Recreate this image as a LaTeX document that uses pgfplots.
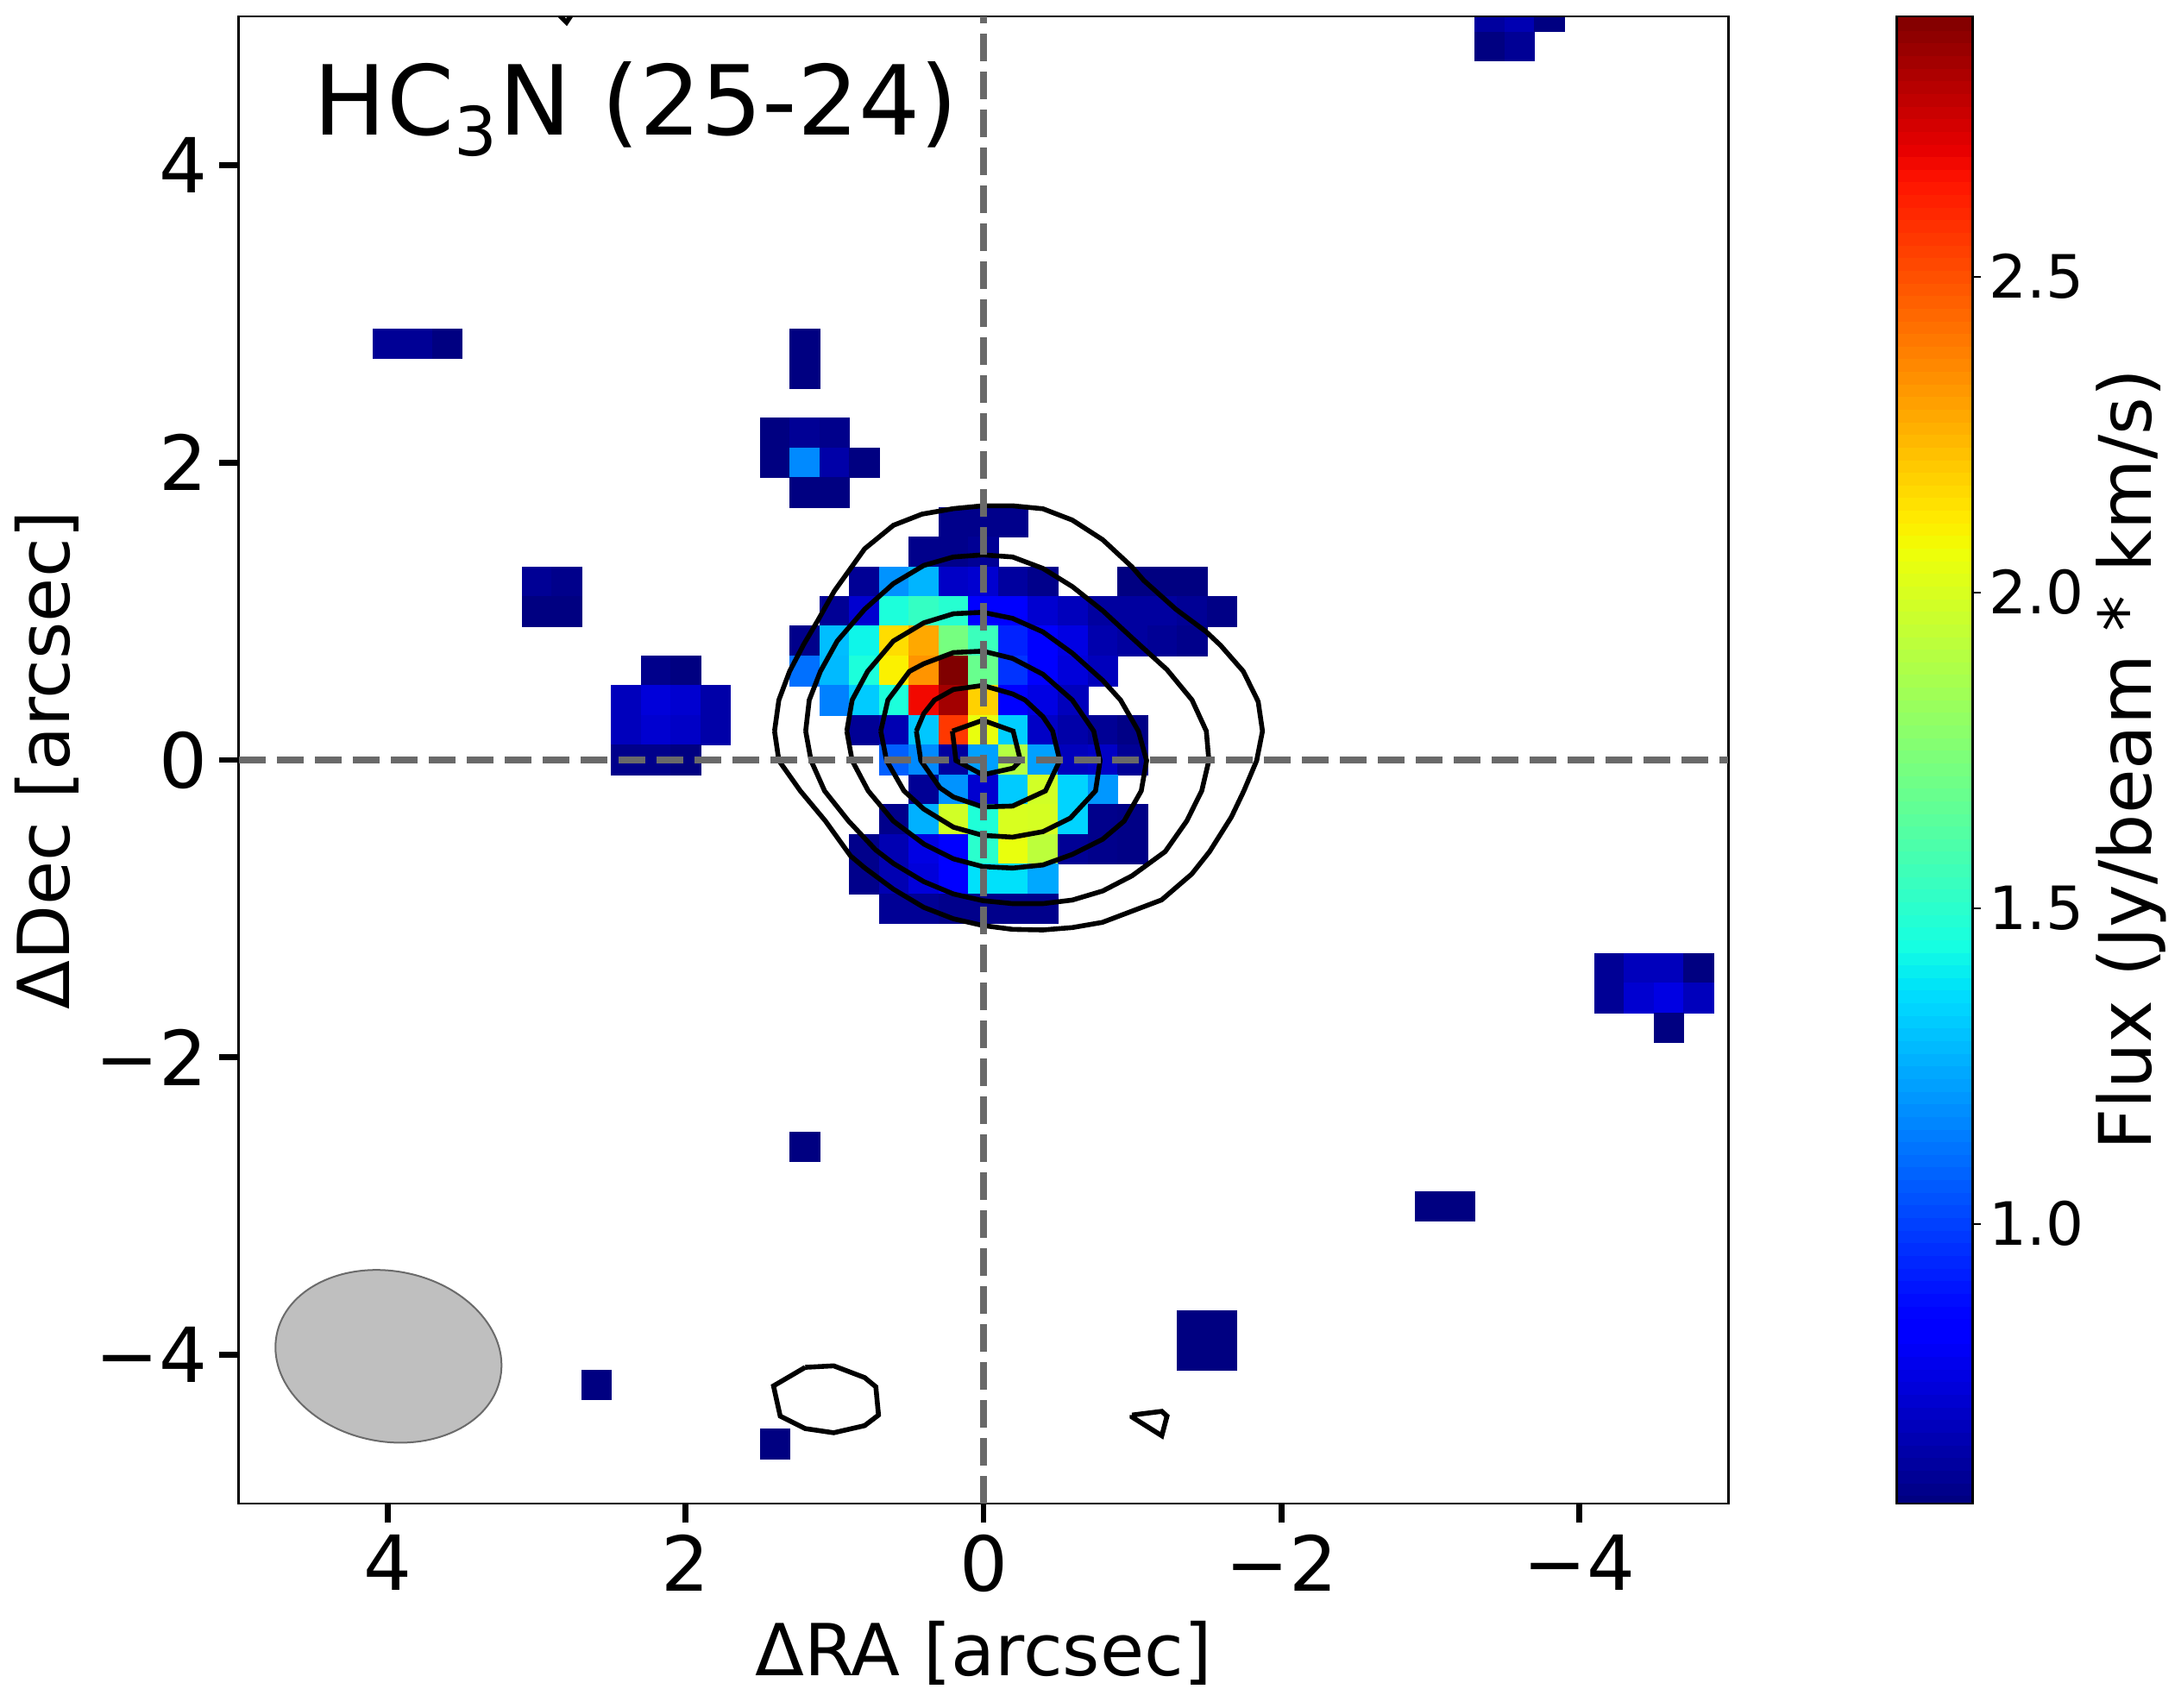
\documentclass[border=0pt]{standalone}
\usepackage{pgfplots}
\usepackage{pgfplotstable}
\usepackage{fontspec}
\setmainfont{DejaVu Sans}
\pgfplotsset{compat=1.18}
\pgfplotsset{colormap={mpljet}{
  rgb(0)=(0,0,0.5) rgb(110)=(0,0,1) rgb(125)=(0,0,1) rgb(340)=(0,0.86,1)
  rgb(350)=(0,0.9,0.968) rgb(375)=(0.081,1,0.887) rgb(640)=(0.935,1,0.032)
  rgb(650)=(0.968,0.963,0) rgb(660)=(1,0.926,0) rgb(890)=(1,0.074,0)
  rgb(910)=(0.909,0,0) rgb(1000)=(0.5,0,0)}}
\definecolor{dashgray}{HTML}{696969}

% x y flux
\pgfplotstableread{
x y f
4.0 2.8 .60
3.8 2.8 .60
3.6 2.8 .56
1.2 2.8 .56
1.2 2.6 .56
1.4 2.2 .56
1.2 2.2 .60
1.0 2.2 .58
1.4 2.0 .56
1.2 2.0 1.17
1.0 2.0 .64
0.8 2.0 .56
1.2 1.8 .56
1.0 1.8 .56
3.0 1.2 .60
2.8 1.2 .58
3.0 1.0 .56
2.8 1.0 .56
2.2 0.6 .58
2.0 0.6 .56
2.4 0.4 .68
2.2 0.4 .74
2.0 0.4 .72
1.8 0.4 .64
2.4 0.2 .68
2.2 0.2 .72
2.0 0.2 .70
1.8 0.2 .64
2.4 0.0 .58
2.2 0.0 .58
2.0 0.0 .56
-3.4 4.8 .56
-3.6 4.8 .60
-3.4 5.0 .62
-3.6 5.0 .66
-3.8 5.0 .56
-4.2 -1.4 .60
-4.4 -1.4 .68
-4.6 -1.4 .68
-4.8 -1.4 .56
-4.2 -1.6 .60
-4.4 -1.6 .72
-4.6 -1.6 .76
-4.8 -1.6 .68
-4.6 -1.8 .56
-3.0 -3.0 .56
-3.2 -3.0 .56
-1.4 -3.8 .56
-1.6 -3.8 .56
-1.4 -4.0 .56
-1.6 -4.0 .56
1.2 -2.6 .56
2.6 -4.2 .56
1.4 -4.6 .56
}\outliers

\pgfplotstableread{
x y f
0.2 1.6 .58
0.0 1.6 .58
-0.2 1.6 .58
0.4 1.4 .58
0.2 1.4 .58
0.0 1.4 .60
0.8 1.2 .60
0.6 1.2 1.19
0.4 1.2 1.27
0.2 1.2 .70
0.0 1.2 .72
-0.2 1.2 .62
-0.4 1.2 .58
-1.0 1.2 .56
-1.2 1.2 .56
-1.4 1.2 .56
1.0 1.0 .60
0.8 1.0 .72
0.6 1.0 1.46
0.4 1.0 1.53
0.2 1.0 1.49
0.0 1.0 .85
-0.2 1.0 .82
-0.4 1.0 .72
-0.6 1.0 .68
-0.8 1.0 .62
-1.0 1.0 .62
-1.2 1.0 .62
-1.4 1.0 .60
-1.6 1.0 .57
1.2 0.8 .58
1.0 0.8 1.29
0.8 0.8 1.42
0.6 0.8 2.15
0.4 0.8 2.28
0.2 0.8 1.72
0.0 0.8 1.55
-0.2 0.8 .93
-0.4 0.8 .85
-0.6 0.8 .76
-0.8 0.8 .65
-1.0 0.8 .62
-1.2 0.8 .60
-1.4 0.8 .58
1.2 0.6 1.11
1.0 0.6 1.28
0.8 0.6 1.46
0.6 0.6 2.10
0.4 0.6 2.33
0.2 0.6 2.91
0.0 0.6 1.68
-0.2 0.6 .97
-0.4 0.6 .82
-0.6 0.6 .74
-0.8 0.6 .68
1.0 0.4 1.15
0.8 0.4 1.32
0.6 0.4 1.46
0.4 0.4 2.68
0.2 0.4 2.84
0.0 0.4 2.18
-0.2 0.4 .82
-0.4 0.4 .76
-0.6 0.4 .68
0.8 0.2 .60
0.6 0.2 .66
0.4 0.2 1.31
0.2 0.2 2.56
0.0 0.2 2.05
-0.2 0.2 1.33
-0.4 0.2 .70
-0.6 0.2 .64
-0.8 0.2 .60
-1.0 0.2 .57
0.6 0.0 1.07
0.4 0.0 1.17
0.2 0.0 .62
0.0 0.0 1.22
-0.2 0.0 1.90
-0.4 0.0 1.22
-0.6 0.0 .68
-0.8 0.0 .70
-1.0 0.0 .60
0.4 -0.2 .60
0.2 -0.2 1.19
0.0 -0.2 .72
-0.2 -0.2 1.32
-0.4 -0.2 1.98
-0.6 -0.2 1.34
-0.8 -0.2 1.20
0.6 -0.4 .58
0.4 -0.4 1.26
0.2 -0.4 1.98
0.0 -0.4 1.47
-0.2 -0.4 2.00
-0.4 -0.4 1.99
-0.6 -0.4 1.34
-0.8 -0.4 .58
-1.0 -0.4 .57
0.8 -0.6 .58
0.6 -0.6 .66
0.4 -0.6 .76
0.2 -0.6 .82
0.0 -0.6 1.50
-0.2 -0.6 2.05
-0.4 -0.6 1.92
-0.6 -0.6 .60
-0.8 -0.6 .58
-1.0 -0.6 .57
0.8 -0.8 .58
0.6 -0.8 .66
0.4 -0.8 .74
0.2 -0.8 .82
0.0 -0.8 1.37
-0.2 -0.8 1.37
-0.4 -0.8 1.24
0.6 -1.0 .60
0.4 -1.0 .60
0.2 -1.0 .58
0.0 -1.0 .58
-0.2 -1.0 .58
-0.4 -1.0 .58
}\core

% colour bar bands
\pgfplotstableread{
f
.56
.58
.60
.62
.64
.66
.68
.70
.72
.74
.76
.78
.80
.82
.84
.86
.88
.90
.92
.94
.96
.98
1.00
1.02
1.04
1.06
1.08
1.10
1.12
1.14
1.16
1.18
1.20
1.22
1.24
1.26
1.28
1.30
1.32
1.34
1.36
1.38
1.40
1.42
1.44
1.46
1.48
1.50
1.52
1.54
1.56
1.58
1.60
1.62
1.64
1.66
1.68
1.70
1.72
1.74
1.76
1.78
1.80
1.82
1.84
1.86
1.88
1.90
1.92
1.94
1.96
1.98
2.00
2.02
2.04
2.06
2.08
2.10
2.12
2.14
2.16
2.18
2.20
2.22
2.24
2.26
2.28
2.30
2.32
2.34
2.36
2.38
2.40
2.42
2.44
2.46
2.48
2.50
2.52
2.54
2.56
2.58
2.60
2.62
2.64
2.66
2.68
2.70
2.72
2.74
2.76
2.78
2.80
2.82
2.84
2.86
2.88
2.90
2.92
}\bands

\begin{document}
\begin{tikzpicture}
\path (-69.2pt,-59.25pt) rectangle (562.8pt,435.75pt);
\begin{axis}[
  name=main,
  at={(0,0)},
  anchor=south west,
  scale only axis,
  set layers=axis on top,
  clip mode=individual,
  clip marker paths=true,
  width=431.6pt, height=431pt,
  x dir=reverse,
  xmin=-5, xmax=5, ymin=-5, ymax=5,
  xtick={-4,-2,0,2,4},
  xticklabels={−4,−2,0,2,4},
  ytick={-4,-2,0,2,4},
  yticklabels={−4,−2,0,2,4},
  xtick pos=bottom, ytick pos=left,
  tick align=outside,
  major tick length=5.6pt,
  tick style={black, line width=1.7pt},
  axis line style={line width=0.7pt},
  ticklabel style={font=\fontsize{22}{26}\selectfont},
  xlabel={ΔRA [arcsec]},
  ylabel={ΔDec [arcsec]},
  xlabel shift=1.5pt,
  ylabel shift=-2pt,
  label style={font=\fontsize{20.8}{25}\selectfont},
  colormap name=mpljet,
  point meta min=0.557, point meta max=2.912,
  cline/.style={black, line width=1.4pt, no markers, on layer=axis foreground},
  centre/.style={dashgray, line width=2.1pt, dash pattern=on 7.9pt off 3.1pt, no markers, on layer=axis foreground},
]
\addplot[scatter, only marks, mark=square*, mark size=4.316pt, scatter src=explicit,
  scatter/use mapped color={draw=mapped color, fill=mapped color},
  mark options={line width=0.15pt}]
  table[x=x, y=y, meta=f] {\outliers};
\addplot[scatter, only marks, mark=square*, mark size=4.316pt, scatter src=explicit,
  scatter/use mapped color={draw=mapped color, fill=mapped color},
  mark options={line width=0.15pt}]
  table[x=x, y=y, meta=f] {\core};

% contours
\addplot[cline] coordinates {
(1.403,0.194)(1.374,0.403)(1.302,0.596)(1.206,0.779)(1.110,0.942)(1.002,1.135)(0.798,1.420)(0.605,1.578)(0.413,1.653)(0.202,1.690)(0.005,1.709)(-0.195,1.709)(-0.399,1.689)(-0.596,1.613)(-0.800,1.481)(-0.997,1.298)(-1.076,1.207)(-1.292,1.013)(-1.496,0.861)(-1.592,0.770)(-1.744,0.596)(-1.844,0.393)(-1.873,0.194)(-1.834,-0.004)(-1.748,-0.208)(-1.664,-0.384)(-1.518,-0.616)(-1.398,-0.767)(-1.196,-0.941)(-0.798,-1.092)(-0.596,-1.127)(-0.399,-1.143)(-0.195,-1.139)(0.005,-1.113)(0.202,-1.068)(0.401,-0.991)(0.605,-0.869)(0.797,-0.726)(0.893,-0.645)(1.061,-0.411)(1.230,-0.208)(1.374,-0.004)(1.403,0.194)};
\addplot[cline] coordinates {
(1.194,0.194)(1.170,0.403)(1.095,0.596)(0.982,0.800)(0.798,1.013)(0.605,1.186)(0.401,1.308)(0.202,1.365)(0.005,1.379)(-0.195,1.365)(-0.399,1.288)(-0.596,1.166)(-0.800,1.004)(-0.997,0.821)(-1.232,0.607)(-1.400,0.403)(-1.496,0.194)(-1.513,-0.004)(-1.465,-0.208)(-1.364,-0.411)(-1.220,-0.616)(-0.997,-0.779)(-0.800,-0.881)(-0.596,-0.942)(-0.399,-0.966)(-0.195,-0.966)(0.005,-0.946)(0.202,-0.901)(0.401,-0.818)(0.605,-0.696)(0.725,-0.604)(0.906,-0.411)(1.067,-0.208)(1.158,-0.004)(1.194,0.194)};
\addplot[cline] coordinates {
(0.918,0.194)(0.882,0.403)(0.778,0.596)(0.605,0.800)(0.401,0.922)(0.202,0.983)(0.005,0.993)(-0.195,0.952)(-0.399,0.861)(-0.596,0.718)(-0.800,0.535)(-0.920,0.403)(-1.040,0.194)(-1.095,-0.004)(-1.059,-0.208)(-0.944,-0.411)(-0.800,-0.533)(-0.596,-0.635)(-0.399,-0.706)(-0.195,-0.727)(0.005,-0.717)(0.202,-0.665)(0.401,-0.565)(0.605,-0.411)(0.774,-0.208)(0.882,-0.004)(0.918,0.194)};
\addplot[cline] coordinates {
(0.690,0.194)(0.642,0.403)(0.497,0.596)(0.401,0.647)(0.202,0.722)(0.005,0.732)(-0.195,0.683)(-0.399,0.576)(-0.596,0.403)(-0.740,0.194)(-0.783,-0.004)(-0.752,-0.208)(-0.583,-0.391)(-0.399,-0.482)(-0.195,-0.519)(0.005,-0.507)(0.202,-0.452)(0.401,-0.330)(0.534,-0.208)(0.651,-0.004)(0.690,0.194)};
\addplot[cline] coordinates {
(0.451,0.194)(0.401,0.312)(0.329,0.403)(0.202,0.474)(0.005,0.501)(-0.195,0.444)(-0.279,0.403)(-0.399,0.291)(-0.464,0.194)(-0.512,-0.004)(-0.416,-0.208)(-0.195,-0.310)(0.005,-0.316)(0.202,-0.249)(0.293,-0.187)(0.421,-0.004)(0.451,0.194)};
\addplot[cline] coordinates {
(0.209,0.194)(0.005,0.267)(-0.199,0.194)(-0.248,-0.004)(-0.199,-0.055)(0.005,-0.100)(0.185,-0.004)(0.209,0.194)};
\addplot[cline] coordinates {
(1.197,-4.084)(1.006,-4.074)(0.798,-4.153)(0.723,-4.215)(0.705,-4.405)(0.798,-4.476)(1.006,-4.524)(1.197,-4.496)(1.365,-4.412)(1.410,-4.209)(1.197,-4.084)};
\addplot[cline] coordinates {
(-0.997,-4.405)(-1.197,-4.380)(-1.232,-4.412)(-1.197,-4.544)(-0.997,-4.418)(-0.997,-4.405)};
\addplot[cline] coordinates {(2.86,5.02)(2.80,4.96)(2.76,5.02)};

% centre lines
\addplot[centre] coordinates {(5,0)(-5,0)};
\addplot[centre] coordinates {(0,-5)(0,5)};

% beam
\draw[fill=black!25, draw=black!58, line width=0.5pt] (axis cs:3.995,-4.01)
  ellipse [x radius=33pt, y radius=24.7pt, rotate=-10.6];

\node[anchor=base west, inner sep=0pt, font=\fontsize{28}{32}\selectfont]
  at (axis cs:4.50,4.20) {HC\textsubscript{3}N (25-24)};
\end{axis}

% colour bar, its own axis
\begin{axis}[
  at={(480.4pt,0pt)},
  anchor=south west,
  scale only axis,
  axis on top,
  clip mode=individual,
  clip marker paths=true,
  width=22pt, height=431pt,
  xmin=0, xmax=1, ymin=0.557, ymax=2.912,
  xtick=\empty,
  ytick={1,1.5,2,2.5},
  yticklabels={1.0,1.5,2.0,2.5},
  ytick pos=right,
  yticklabel pos=right,
  tick align=outside,
  major tick length=2.3pt,
  tick style={black, line width=0.5pt},
  axis line style={line width=0.7pt},
  yticklabel style={font=\fontsize{17.3}{20}\selectfont, xshift=-1pt},
  ylabel={Flux (Jy/beam * km/s)},
  ylabel shift=-3.5pt,
  ylabel style={font=\fontsize{21}{25}\selectfont},
  colormap name=mpljet,
  point meta min=0.557, point meta max=2.912,
]
\addplot[scatter, only marks, mark=-, mark size=11pt, scatter src=explicit,
  scatter/use mapped color={draw=mapped color},
  mark options={line width=4pt}]
  table[x expr=0.5, y=f, meta=f] {\bands};
\end{axis}
\end{tikzpicture}
\end{document}
